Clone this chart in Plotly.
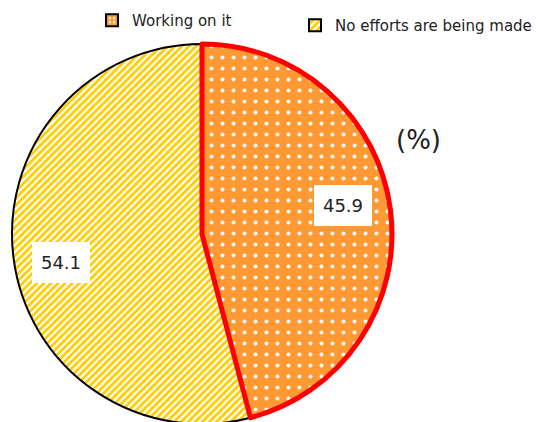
import math
import plotly.graph_objects as go

categories = ["Working on it", "No efforts are being made"]
values = [45.9, 54.1]
fill_colors = ["#FF9933", "#FFFFFF"]
pattern_fg = ["#FFFFFF", "#FFCC00"]
pattern_bg = ["#FF9933", "#FFFFFF"]
pattern_shapes = [".", "/"]
pattern_sizes = [11, 5]
pattern_solidity = [0.1, 0.55]
label_texts = ["45.9", "54.1"]

W, H = 540, 422
# page body has an 8px margin; positions below are figure coordinates
cx_px, cy_px, R = 194, 226, 190

fig = go.Figure()
dom_x = [(cx_px - R) / W, (cx_px + R) / W]
dom_y = [(H - (cy_px + R)) / H, (H - (cy_px - R)) / H]

# legend-only carriers (tiny, hidden under the main pie)
legend_pos = [(84, 1 + 4 / H), (287, 1 - 1 / H)]
legend_names = ["legend", "legend2"]
for i, c in enumerate(categories):
    fig.add_trace(go.Pie(
        labels=[c], values=[1], sort=False, legend=legend_names[i],
        marker=dict(colors=[fill_colors[i]], line=dict(color="#000000", width=2),
                    pattern=dict(shape=[pattern_shapes[i]], fgcolor=[pattern_fg[i]],
                                 bgcolor=[pattern_bg[i]], size=[pattern_sizes[i] if i == 1 else 4],
                                 solidity=[pattern_solidity[i] if i == 1 else 0.25],
                                 fillmode="replace")),
        textinfo="none", hoverinfo="skip",
        domain=dict(x=[0.35, 0.3501], y=[0.5, 0.5001]),
    ))

fig.add_trace(go.Pie(
    labels=categories, values=values, sort=False, direction="clockwise",
    rotation=0, showlegend=False,
    marker=dict(colors=fill_colors,
                line=dict(color="#000000", width=2),
                pattern=dict(shape=pattern_shapes, fgcolor=pattern_fg,
                             bgcolor=pattern_bg, size=pattern_sizes,
                             solidity=pattern_solidity, fillmode="replace")),
    textinfo="none", hoverinfo="skip", domain=dict(x=dom_x, y=dom_y),
))
fig.add_trace(go.Pie(
    labels=categories, values=values, sort=False, direction="clockwise",
    rotation=0, showlegend=False,
    marker=dict(colors=["rgba(0,0,0,0)", "rgba(0,0,0,0)"],
                line=dict(color=["#FF0000", "rgba(0,0,0,0)"], width=[5, 0])),
    textinfo="none", hoverinfo="skip", domain=dict(x=dom_x, y=dom_y),
))

# value labels with white boxes near slice mid-angles
total = sum(values)
start = 0.0
annotations = []
for v, t in zip(values, label_texts):
    mid = start + v / total * 360 / 2 - 4
    start += v / total * 360
    r = 0.755 * R
    x = cx_px + r * math.sin(math.radians(mid))
    y = cy_px - r * math.cos(math.radians(mid))
    annotations.append(dict(x=x / W, y=1 - y / H, xref="paper", yref="paper",
                            xanchor="center", yanchor="middle",
                            text=t, showarrow=False, bgcolor="#FFFFFF",
                            width=48, height=31, borderpad=4, borderwidth=1,
                            bordercolor="#FFFFFF",
                            font=dict(size=18, color="#222222",
                                      family="DejaVu Sans")))
annotations.append(dict(x=410 / W, y=1 - 132 / H, xref="paper", yref="paper",
                        xanchor="center", yanchor="middle",
                        text="(%)", showarrow=False,
                        font=dict(size=26, color="#222222", family="DejaVu Sans")))

legend_common = dict(orientation="h", xanchor="left", yanchor="top",
                     font=dict(size=15, family="DejaVu Sans", color="#222222"),
                     bgcolor="rgba(0,0,0,0)")
fig.update_layout(
    width=W, height=H, margin=dict(l=0, r=0, t=0, b=0, autoexpand=False),
    paper_bgcolor="#FFFFFF", plot_bgcolor="#FFFFFF",
    font=dict(family="DejaVu Sans", color="#222222"),
    legend=dict(x=legend_pos[0][0] / W, y=legend_pos[0][1], **legend_common),
    legend2=dict(x=legend_pos[1][0] / W, y=legend_pos[1][1], **legend_common),
    annotations=annotations,
)

fig.write_html("out.html")
